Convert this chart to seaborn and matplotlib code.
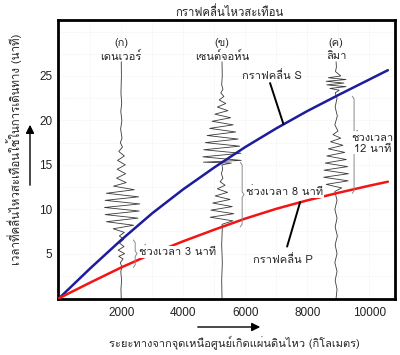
import numpy as np
import pandas as pd
import matplotlib
matplotlib.use("Agg")
import matplotlib.pyplot as plt
import seaborn as sns
from matplotlib import font_manager as fm
from matplotlib.ft2font import FT2Font

sns.set_style("white")


def find_thai_family():
    for f in fm.fontManager.ttflist:
        try:
            if 0x0E01 in FT2Font(f.fname).get_charmap():
                return f.name
        except Exception:
            pass
    return None


thai = find_thai_family()
plt.rcParams["font.family"] = ([thai] if thai else []) + ["Liberation Sans", "DejaVu Sans"]

# ---------------- data ----------------
distance_km = [0, 1000, 2000, 3000, 4000, 5000, 6000, 7000, 8000, 9000, 10000, 10600]
s_wave_min = [0, 3.35, 6.55, 9.55, 12.25, 14.7, 17.0, 19.1, 21.05, 22.85, 24.6, 25.65]
p_wave_min = [0, 1.75, 3.45, 5.0, 6.4, 7.7, 8.95, 10.05, 11.0, 11.85, 12.65, 13.1]

station_codes = ["(ก)", "(ข)", "(ค)"]
station_names = ["เดนเวอร์", "เซนต์จอห์น", "ลิมา"]
station_km = [2000, 5250, 8930]

# seismogram traces: (minutes, sideways offset in km)
denver_t = [26.6, 25, 23, 22, 21, 20, 19, 18, 17.5, 17, 16.5, 16, 15.5, 15, 14.5, 14, 13.5, 13,
            12.6, 12.2, 11.8, 11.4, 11.0, 10.6, 10.2, 9.8, 9.4, 9.0, 8.6, 8.2, 7.8, 7.4, 7.0,
            6.6, 6.2, 5.8, 5.4, 5.0, 4.7, 4.4, 4.0, 3.5, 3.0, 2.0, 1.0, 0.0]
denver_dx = [0, 5, -10, 15, -15, 20, -20, 25, -30, 40, -80, 100, -120, 130, -130, 140, -150, 160,
             -250, 420, -480, 560, -520, 600, -540, 580, -520, 540, -480, 400, -260, 100, -60,
             80, -60, 90, -100, 110, -80, 60, -30, 20, -15, 10, -10, 0]

stjohn_t = [26.6, 25, 24, 23.5, 23.1, 22.7, 22.3, 21.9, 21.5, 21.1, 20.7, 20.3, 19.9, 19.5,
            19.1, 18.7, 18.3, 17.9, 17.5, 17.1, 16.7, 16.3, 15.9, 15.5, 15.3, 15.2, 15.0, 14.5,
            14, 13.5, 13.1, 12.7, 12.3, 11.9, 11.5, 11.1, 10.7, 10.3, 9.9, 9.5, 9.1, 8.7, 8.3,
            8, 6, 4, 2, 0]
stjohn_dx = [0, 8, -10, 30, -40, 60, -90, 120, -150, 190, -230, 280, -320, 360,
             -400, 440, -480, 520, -540, 570, -590, 610, -620, 620, -600, 300, 0, 20,
             -20, 30, -60, 100, -150, 180, -220, 260, -300, 330, -360, 380, -380, 350, 0,
             10, -10, 10, -10, 0]

lima_t = [26.6, 26, 25.5, 25.0, 24.8, 24.6, 24.4, 24.2, 24.0, 23.8, 23.6, 23.4, 23.1, 22.5,
          21.5, 20.5, 19.5, 18.8, 18.4, 18.0, 17.6, 17.2, 16.8, 16.4, 16.0, 15.6, 15.2, 14.8,
          14.4, 14.0, 13.6, 13.2, 12.8, 12.4, 12.0, 11, 10, 9, 8, 7, 6, 5, 4, 3, 2, 1, 0]
lima_dx = [0, 10, -20, 150, -250, 320, -320, 250, -300, 320, -200, 100, -30, 30,
           -30, 40, -40, 60, -100, 150, -180, 220, -250, 280, -300, 330, -350, 370,
           -390, 400, -400, 390, -320, 180, -40, 30, -40, 30, -30, 40, -30, 30, -40, 30, -30, 30, 0]

traces_t = [denver_t, stjohn_t, lima_t]
traces_dx = [denver_dx, stjohn_dx, lima_dx]

interval_labels = ["ช่วงเวลา 3 นาที", "ช่วงเวลา 8 นาที", "ช่วงเวลา\n12 นาที"]

# ---------------- figure ----------------
fig = plt.figure(figsize=(4.0, 3.55), dpi=100)
ax = fig.add_axes([58 / 400, 1 - 299 / 355, (395 - 58) / 400, (299 - 20) / 355])
ax.set_axisbelow(True)

# seismograms
for xs, tt, dx in zip(station_km, traces_t, traces_dx):
    sdf = pd.DataFrame({"km": np.array(dx) + xs, "min": tt})
    sns.lineplot(data=sdf, x="km", y="min", sort=False, estimator=None, ax=ax,
                 color="#3a3a3a", linewidth=0.6, zorder=2)

# travel-time curves
curves = pd.DataFrame({
    "km": distance_km * 2,
    "min": s_wave_min + p_wave_min,
    "wave": ["S"] * len(distance_km) + ["P"] * len(distance_km),
})
sns.lineplot(data=curves, x="km", y="min", hue="wave", palette={"S": "#1c1c9c", "P": "#f41414"},
             linewidth=1.8, ax=ax, legend=False, zorder=4)

ax.set_xlim(-40, 10830)
ax.set_ylim(-0.1, 31.3)
ax.set_xticks([2000, 4000, 6000, 8000, 10000])
ax.set_xticks(np.arange(1000, 10800, 1000), minor=True)
ax.set_yticks([5, 10, 15, 20, 25])
ax.set_yticks(np.arange(2.5, 31, 2.5), minor=True)
ax.tick_params(axis="both", which="both", direction="in", length=4, width=0.8,
               labelsize=8.5, colors="#222222")
ax.tick_params(axis="x", pad=6)
ax.tick_params(axis="y", pad=4)
for lab in ax.get_xticklabels() + ax.get_yticklabels():
    lab.set_family("Liberation Sans")
ax.grid(True, which="both", color="#e6e6e6", linestyle=(0, (1, 2)), linewidth=0.5)
for sp in ax.spines.values():
    sp.set_visible(True)
    sp.set_linewidth(2)
    sp.set_color("black")
ax.set_xlabel("")
ax.set_ylabel("")

# station labels
for code, name, xs in zip(station_codes, station_names, station_km):
    ax.text(xs, 28.7, code, ha="center", va="center", fontsize=8)
    ax.text(xs, 27.2, name, ha="center", va="center", fontsize=8)

# braces and interval labels
brace_km = [2390, 5840, 9450]
label_pos = [(2580, 5.2, "left"), (6030, 12.0, "left"), (10100, 17.5, "center")]
for bx, lab, (lx, ly, ha), xs in zip(brace_km, interval_labels, label_pos, station_km):
    top = np.interp(xs, distance_km, s_wave_min)
    bot = np.interp(xs, distance_km, p_wave_min)
    mid = (top + bot) / 2
    w = 120
    ax.plot([bx, bx + w / 2, bx + w / 2, bx + w, bx + w / 2, bx + w / 2, bx],
            [top, top - 0.3, mid + 0.3, mid, mid - 0.3, bot + 0.3, bot],
            color="#8a8a8a", linewidth=0.7, zorder=5)
    ax.text(lx, ly, lab, ha=ha, va="center", fontsize=8, linespacing=1.1,
            bbox=dict(facecolor="white", edgecolor="none", pad=0.5), zorder=6)

# wave labels with leader lines
ax.text(6870, 25.1, "กราฟคลื่น S", ha="center", va="center", fontsize=8, zorder=6)
ax.plot([6800, 7230], [24.2, 19.6], color="black", linewidth=1.4, zorder=5)
ax.text(7230, 4.3, "กราฟคลื่น P", ha="center", va="center", fontsize=8, zorder=6)
ax.plot([7350, 7770], [5.8, 10.8], color="black", linewidth=1.4, zorder=5)

# title and axis labels
fig.text(230 / 400, 1 - 12 / 355, "กราฟคลื่นไหวสะเทือน", ha="center", va="center", fontsize=8.2)
fig.text(234 / 400, 1 - 343 / 355, "ระยะทางจากจุดเหนือศูนย์เกิดแผ่นดินไหว (กิโลเมตร)",
         ha="center", va="center", fontsize=8)
fig.text(14 / 400, 1 - 149 / 355, "เวลาที่คลื่นไหวสะเทือนใช้ในการเดินทาง (นาที)",
         ha="center", va="center", rotation=90, fontsize=8.3)

# arrows
fig.add_artist(matplotlib.patches.FancyArrowPatch(
    (195 / 400, 1 - 327 / 355), (263 / 400, 1 - 327 / 355), transform=fig.transFigure,
    arrowstyle="-|>,head_length=5,head_width=2.5", color="black", linewidth=1))
fig.add_artist(matplotlib.patches.FancyArrowPatch(
    (30 / 400, 1 - 188 / 355), (30 / 400, 1 - 122 / 355), transform=fig.transFigure,
    arrowstyle="-|>,head_length=5,head_width=2.5", color="black", linewidth=1))

fig.savefig("out.png", dpi=100)
